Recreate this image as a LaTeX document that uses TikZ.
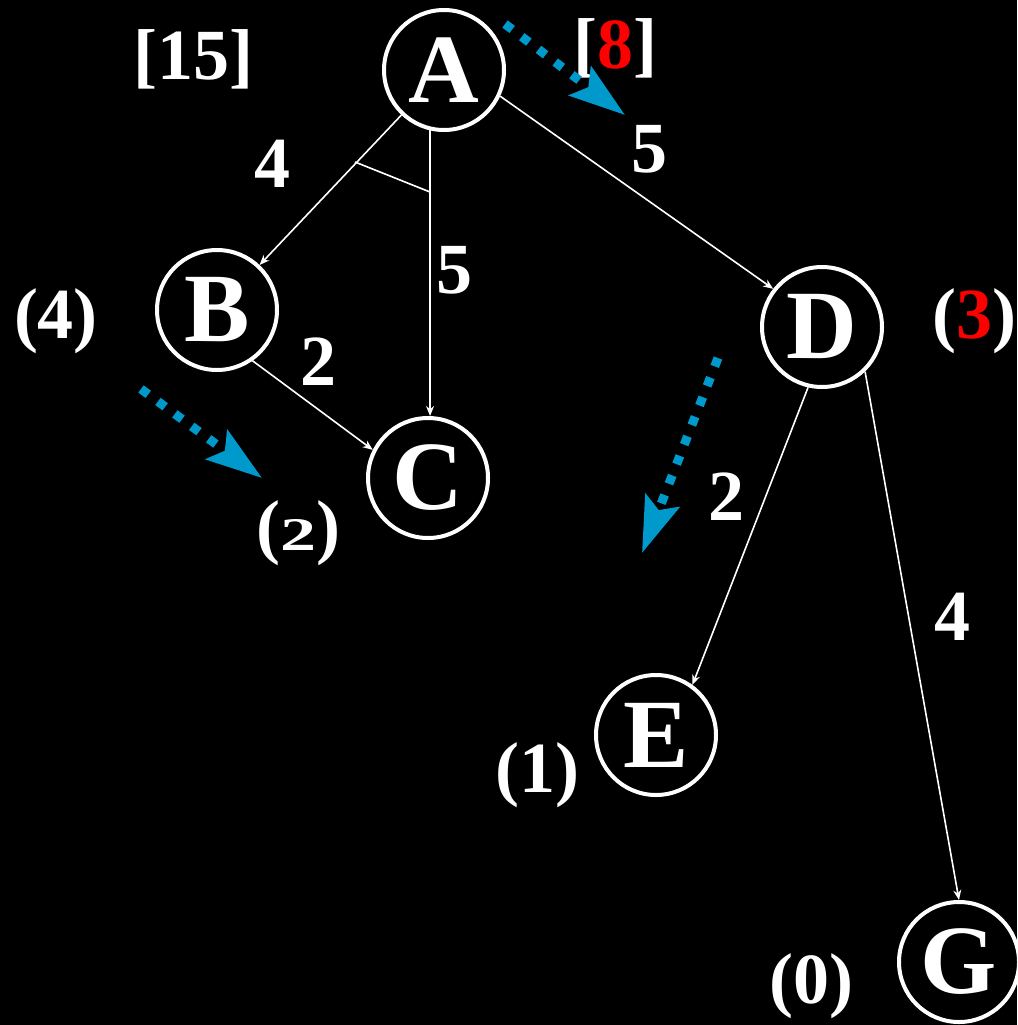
\documentclass[tikz,border=0pt]{standalone}
\usepackage{fontspec}
\setmainfont{Liberation Serif}
\usetikzlibrary{arrows.meta}
\definecolor{hintblue}{HTML}{0099CC}
\definecolor{hred}{HTML}{FF0000}
\begin{document}
\begin{tikzpicture}[x=1pt,y=-1pt,
  state/.style={circle, draw=white, line width=4pt, minimum size=120pt, inner sep=0pt,
    font=\fontsize{98}{98}\selectfont\bfseries, text=white},
  lbl/.style={anchor=base, inner sep=0pt, text=white, font=\fontsize{72}{72}\selectfont\bfseries},
  edge/.style={draw=white, line width=1.6pt, -{Stealth[length=10pt,width=8pt]}},
  andline/.style={draw=white, line width=1.6pt},
  hint/.style={draw=hintblue, line width=9pt, dash pattern=on 9pt off 12pt,
    -{Stealth[length=56pt,width=36pt,inset=10pt]}}
]
\fill[black] (0,0) rectangle (1017,1025);
\useasboundingbox (0,0) rectangle (1017,1025);

% nodes
\node[state] (A) at (444,70) {A};
\node[state] (B) at (217,310) {B};
\node[state] (C) at (428,478) {C};
\node[state] (D) at (822,327) {D};
\node[state] (E) at (656,735) {E};
\node[state] (G) at (959,962) {G};

% edges
\draw[edge] (A) -- (B);
\draw[edge] (A.257) -- (A.257 |- C.north);
\draw[edge] (A.-25) -- (D.142);
\draw[edge] (B.-55) -- (C.153);
\draw[edge] (D.-103) -- (E.54);
\draw[edge] (D.-46) -- (G.north);

% AND connector
\coordinate (and1) at (355,162);
\coordinate (and2) at (430,192);
\draw[andline] (and1) -- (and2);

% labels
\node[lbl] (l15) at (193,80) {[15]};
\node[lbl] (l8) at (615,68) {[\textcolor{hred}{8}]};
\node[lbl] (wAB) at (272,187) {4};
\node[lbl] (wAD) at (649,172) {5};
\node[lbl] (wAC) at (454,293) {5};
\node[lbl] (hB) at (56,338) {(4)};
\node[lbl] (wBC) at (318,385) {2};
\node[lbl] (hD) at (974,338) {(\textcolor{hred}{3})};
\node[lbl] (hC) at (298,550) {(\scalebox{1}[0.65]{2})};
\node[lbl] (wDE) at (726,520) {2};
\node[lbl] (wDG) at (952,640) {4};
\node[lbl] (hE) at (537,792) {(1)};
\node[lbl] (hG) at (811,1003) {(0)};

% blue hint arrows
\coordinate (h1s) at (505,24);
\coordinate (h1e) at (625,115);
\draw[hint] (h1s) -- (h1e);
\coordinate (h2s) at (141,389);
\coordinate (h2e) at (262,478);
\draw[hint] (h2s) -- (h2e);
\coordinate (h3s) at (718,358);
\coordinate (h3e) at (642,553);
\draw[hint] (h3s) -- (h3e);
\end{tikzpicture}
\end{document}
